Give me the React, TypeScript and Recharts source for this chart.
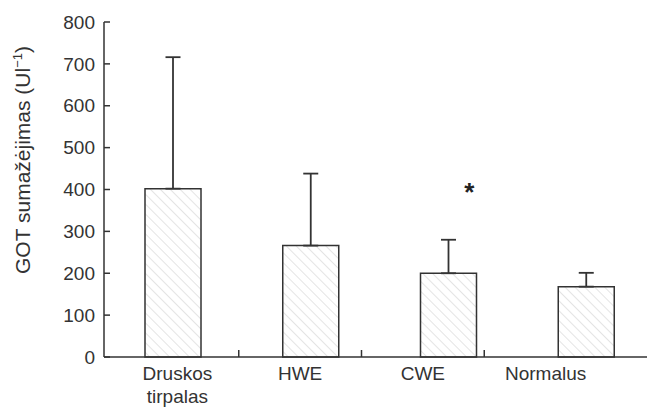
import { BarChart, Bar, XAxis, YAxis, ErrorBar, ReferenceLine, ReferenceDot } from "recharts";

// Group names, means and upper SD bars
const groups = ["Druskos tirpalas", "HWE", "CWE", "Normalus"];
const means = [402, 266, 200, 168];
const sds = [314, 172, 80, 33];
const yTicks = [0, 100, 200, 300, 400, 500, 600, 700, 800];

const data = groups.map((name, i) => ({
  name,
  value: means[i],
  err: [0, sds[i]],
}));

const W = 655;
const H = 415;
const Y_AXIS_W = 104;
const LABEL_PAD_L = 12;
const LABEL_PAD_R = 48;
const LABEL_BAND = (W - Y_AXIS_W - LABEL_PAD_L - LABEL_PAD_R) / groups.length;
const INK = "#333";
const FONT = "'Liberation Sans', Arial, Helvetica, sans-serif";

function YTick({ x, y, payload }: any) {
  return (
    <g>
      <line x1={x} x2={x + 6} y1={y} y2={y} stroke={INK} strokeWidth={1.5} />
      <text x={x - 9} y={y} dy="0.35em" textAnchor="end" fill={INK} fontSize={19} fontFamily={FONT}>
        {payload.value}
      </text>
    </g>
  );
}

function XTick({ x, y, payload, index }: any) {
  const lines = String(payload.value).split(" ");
  return (
    <g>
      {index > 0 && (
        <line
          x1={x - LABEL_BAND / 2}
          x2={x - LABEL_BAND / 2}
          y1={y}
          y2={y - 7}
          stroke={INK}
          strokeWidth={1.5}
        />
      )}
      <text x={x} y={y + 23} textAnchor="middle" fill={INK} fontSize={19} fontFamily={FONT}>
        {lines.map((l, i) => (
          <tspan key={i} x={x} dy={i === 0 ? 0 : 23}>
            {l}
          </tspan>
        ))}
      </text>
    </g>
  );
}

function Asterisk({ viewBox }: any) {
  const fs = 26;
  return (
    <text
      x={viewBox.x + 21}
      y={viewBox.y + fs * 0.57}
      textAnchor="middle"
      fill="#222"
      fontSize={fs}
      fontWeight="bold"
      fontFamily={FONT}
    >
      *
    </text>
  );
}

export default function App() {
  return (
    <div style={{ margin: -8, width: W, height: H, background: "#fff" }}>
      <BarChart
        width={W}
        height={H}
        data={data}
        margin={{ top: 22, right: 0, bottom: 0, left: 0 }}
      >
        <defs>
          <pattern
            id="hatch"
            patternUnits="userSpaceOnUse"
            width={7}
            height={7}
            patternTransform="rotate(-45)"
          >
            <rect width={7} height={7} fill="#fff" />
            <line x1={0} y1={0} x2={0} y2={7} stroke="#e4e4e4" strokeWidth={2} />
          </pattern>
        </defs>
        <XAxis xAxisId="bars" dataKey="name" hide height={0} />
        <XAxis
          xAxisId="labels"
          dataKey="name"
          height={58}
          axisLine={false}
          tickLine={false}
          tickSize={0}
          tickMargin={0}
          interval={0}
          padding={{ left: LABEL_PAD_L, right: LABEL_PAD_R }}
          tick={<XTick />}
        />
        <YAxis
          width={Y_AXIS_W}
          domain={[0, 800]}
          ticks={yTicks}
          interval={0}
          axisLine={{ stroke: INK, strokeWidth: 1.5 }}
          tickLine={false}
          tickSize={0}
          tickMargin={0}
          tick={<YTick />}
          label={{
            content: () => (
              <text
                x={23}
                y={160}
                transform="rotate(-90 23 160)"
                textAnchor="middle"
                dy="0.35em"
                fill={INK}
                fontSize={21}
                fontFamily={FONT}
              >
                GOT sumažėjimas (Ul
                <tspan dy={-8} fontSize={13}>
                  −1
                </tspan>
                <tspan dy={8}>)</tspan>
              </text>
            ),
          }}
        />
        <Bar
          xAxisId="bars"
          dataKey="value"
          barSize={56}
          fill="url(#hatch)"
          stroke={INK}
          strokeWidth={1.5}
          isAnimationActive={false}
        >
          <ErrorBar dataKey="err" width={7.5} stroke={INK} strokeWidth={1.8} direction="y" />
        </Bar>
        <ReferenceLine xAxisId="bars" y={0} stroke={INK} strokeWidth={1.5} />
        <ReferenceDot
          xAxisId="bars"
          x="CWE"
          y={408}
          r={0}
          fill="none"
          stroke="none"
          label={<Asterisk />}
        />
      </BarChart>
    </div>
  );
}
